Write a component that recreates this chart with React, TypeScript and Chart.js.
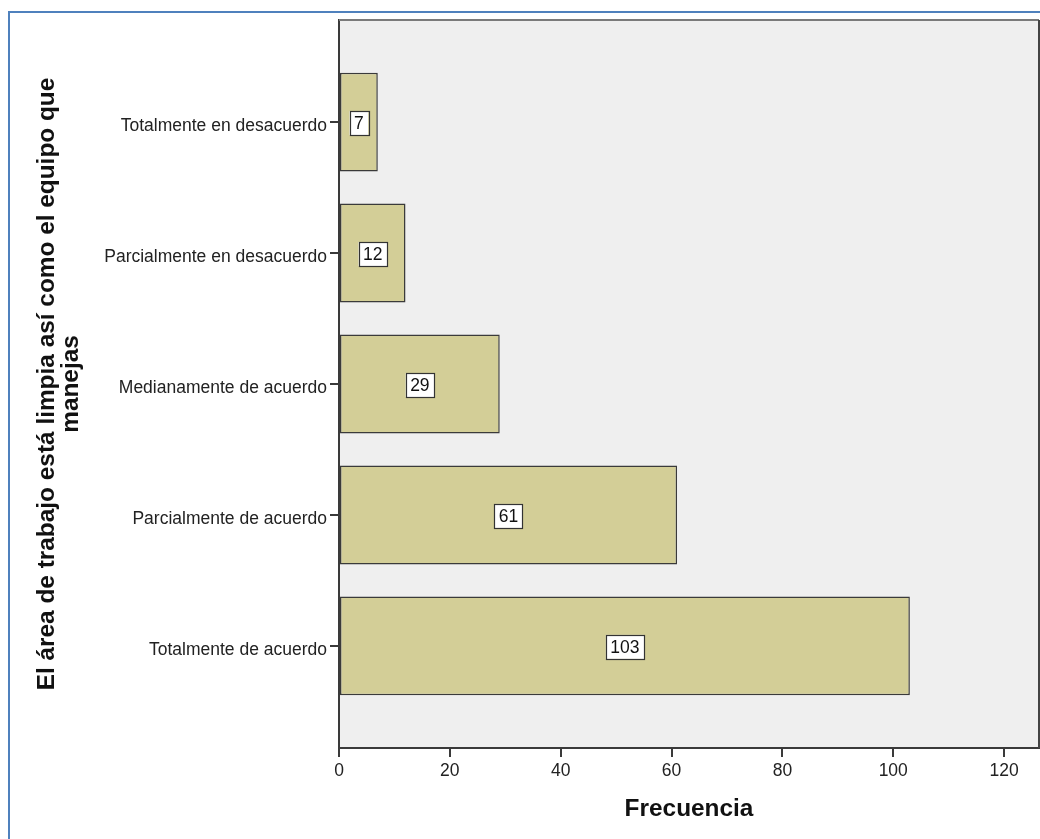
import { useEffect, useRef } from 'react';
import { Chart, registerables } from 'chart.js';

Chart.register(...registerables);

// Response categories, top to bottom
const categories = [
  'Totalmente en desacuerdo',
  'Parcialmente en desacuerdo',
  'Medianamente de acuerdo',
  'Parcialmente de acuerdo',
  'Totalmente de acuerdo',
];

// Frequency per category
const frequencies = [7, 12, 29, 61, 103];

// Tick values on the frequency axis
const xTickValues = [0, 20, 40, 60, 80, 100, 120];

const yTitleLines = ['El área de trabajo está limpia así como el equipo que', 'manejas'];
const xTitle = 'Frecuencia';

const FONT = '"Liberation Sans", Arial, sans-serif';
const BAR_FILL = '#D3CE97';
const PLOT_BG = '#EFEFEF';
const DARK = '#3a3a3a';

// Page frame, plot background and plot border
const framePlugin = {
  id: 'frame',
  beforeDraw(chart: any) {
    const { ctx, chartArea: a, width, height } = chart;
    ctx.save();
    ctx.fillStyle = '#ffffff';
    ctx.fillRect(0, 0, width, height);
    ctx.fillStyle = PLOT_BG;
    ctx.fillRect(a.left, a.top, a.right - a.left, a.bottom - a.top);
    // blue outline along the top and left edges
    ctx.strokeStyle = '#4F81BD';
    ctx.lineWidth = 2;
    ctx.beginPath();
    ctx.moveTo(9, height);
    ctx.lineTo(9, 12);
    ctx.lineTo(width, 12);
    ctx.stroke();
    ctx.restore();
  },
  afterDraw(chart: any) {
    const { ctx, chartArea: a } = chart;
    ctx.save();
    ctx.lineWidth = 2;
    ctx.strokeStyle = '#7a7a7a';
    ctx.beginPath();
    ctx.moveTo(a.left, a.top);
    ctx.lineTo(a.right, a.top);
    ctx.stroke();
    ctx.strokeStyle = '#444';
    ctx.beginPath();
    ctx.moveTo(a.right, a.top);
    ctx.lineTo(a.right, a.bottom);
    ctx.stroke();
    ctx.restore();
  },
};

// Boxed count label in the middle of each bar
const valueLabelPlugin = {
  id: 'valueLabels',
  afterDatasetsDraw(chart: any) {
    const { ctx } = chart;
    const meta = chart.getDatasetMeta(0);
    const values = chart.data.datasets[0].data as any[];
    ctx.save();
    ctx.font = `17.5px ${FONT}`;
    ctx.textAlign = 'center';
    ctx.textBaseline = 'middle';
    meta.data.forEach((bar: any, i: number) => {
      const text = String(values[i].x);
      const cx = (bar.x + bar.base) / 2;
      const cy = bar.y + 1;
      const w = ctx.measureText(text).width + 9;
      const h = 24;
      ctx.fillStyle = '#ffffff';
      ctx.fillRect(cx - w / 2, cy - h / 2, w, h);
      ctx.strokeStyle = '#333';
      ctx.lineWidth = 1.2;
      ctx.strokeRect(Math.round(cx - w / 2) + 0.5, Math.round(cy - h / 2) + 0.5, Math.round(w), h);
      ctx.fillStyle = '#111';
      ctx.fillText(text, cx, cy + 1);
    });
    ctx.restore();
  },
};

export default function App() {
  const canvasRef = useRef<HTMLCanvasElement | null>(null);

  useEffect(() => {
    const canvas = canvasRef.current;
    if (!canvas) return;
    const chart = new Chart(canvas, {
      type: 'bar',
      data: {
        datasets: [
          {
            data: frequencies.map((v, i) => ({ x: v, y: i })),
            backgroundColor: BAR_FILL,
            borderColor: DARK,
            borderWidth: 1.5,
            borderSkipped: false,
            categoryPercentage: 1,
            barPercentage: 0.756,
          },
        ],
      },
      options: {
        indexAxis: 'y',
        animation: false,
        responsive: false,
        devicePixelRatio: 1,
        layout: { padding: { top: 20, right: 1, left: 0, bottom: 0 } },
        plugins: {
          legend: { display: false },
          tooltip: { enabled: false },
        },
        scales: {
          x: {
            type: 'linear',
            min: 0,
            max: 126.3,
            afterBuildTicks(scale: any) {
              scale.ticks = xTickValues.map((v) => ({ value: v }));
            },
            afterFit(scale: any) {
              scale.height = 91;
            },
            grid: {
              display: true,
              drawOnChartArea: false,
              drawTicks: true,
              tickLength: 9,
              tickColor: DARK,
              lineWidth: 2,
            },
            border: { display: true, color: DARK, width: 2 },
            ticks: {
              color: '#222',
              padding: 4,
              font: { family: FONT, size: 17.5 },
              maxRotation: 0,
            },
            title: {
              display: true,
              text: xTitle,
              color: '#111',
              font: { family: FONT, size: 24.4, weight: 'bold', lineHeight: 1 },
              padding: { top: 0, bottom: 18 },
            },
          },
          y: {
            type: 'linear',
            reverse: true,
            offset: false,
            min: -0.78,
            max: 4.78,
            afterBuildTicks(scale: any) {
              scale.ticks = categories.map((_, i) => ({ value: i }));
            },
            afterFit(scale: any) {
              scale.width = 339;
            },
            grid: {
              display: true,
              offset: false,
              drawOnChartArea: false,
              drawTicks: true,
              tickLength: 9,
              tickColor: DARK,
              lineWidth: 2,
            },
            border: { display: true, color: DARK, width: 2 },
            ticks: {
              color: '#222',
              padding: 3,
              labelOffset: 4,
              font: { family: FONT, size: 17.5 },
              callback: (value: any) => categories[Number(value)] ?? '',
            },
            title: {
              display: true,
              text: yTitleLines,
              color: '#111',
              font: { family: FONT, size: 24.4, weight: 'bold', lineHeight: 1 },
              padding: { top: 35, bottom: 0 },
            },
          },
        },
      },
      plugins: [framePlugin, valueLabelPlugin],
    } as any);
    return () => chart.destroy();
  }, []);

  return (
    <div style={{ position: 'fixed', left: 0, top: 0, width: 1040, height: 839 }}>
      <canvas ref={canvasRef} width={1040} height={839} style={{ display: 'block', width: 1040, height: 839 }} />
    </div>
  );
}
